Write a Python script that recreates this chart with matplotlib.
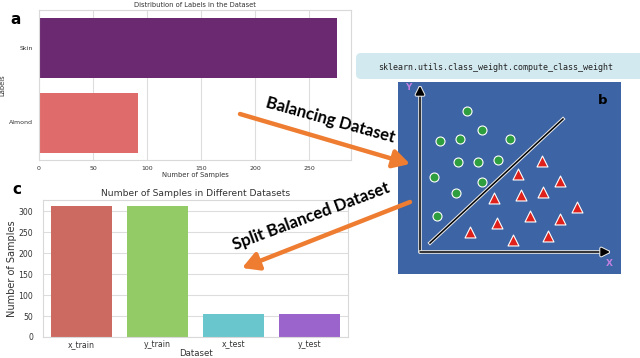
import matplotlib
matplotlib.use("Agg")
import matplotlib.pyplot as plt
import matplotlib.patheffects as pe
from matplotlib.patches import FancyBboxPatch

# panel a : distribution of labels
label_names = ["Skin", "Almond"]
label_counts = [276, 92]
label_colors = ["#6a2970", "#e06b6b"]

# panel c : split sizes
split_names = ["x_train", "y_train", "x_test", "y_test"]
split_counts = [312, 312, 56, 56]
split_colors = ["#cc6a62", "#93cb67", "#68c6cc", "#9b64cc"]

# panel b : schematic points (feature space)
circle_x = [4.7, 6.2, 2.0, 4.0, 9.0, 3.8, 5.8, 7.8, 1.4, 6.2, 3.6, 1.7]
circle_y = [14.1, 12.2, 11.1, 11.3, 11.3, 9.0, 9.0, 9.2, 7.5, 7.0, 5.9, 3.6]
tri_x = [12.2, 9.8, 14.0, 7.4, 10.1, 12.3, 15.7, 11.0, 14.0, 7.7, 5.0, 9.3, 12.8]
tri_y = [9.1, 7.8, 7.1, 5.4, 5.7, 6.0, 4.5, 3.6, 3.3, 2.9, 2.0, 1.2, 1.6]

W, H = 640, 358
fig = plt.figure(figsize=(6.4, 3.58), dpi=100)
fig.patch.set_facecolor("white")


def px_axes(l, t, r, b):
    return fig.add_axes([l / W, 1 - b / H, (r - l) / W, (b - t) / H])


def light_style(ax):
    for s in ax.spines.values():
        s.set_color("#d9d9d9")
        s.set_linewidth(0.8)
    ax.tick_params(length=0, colors="#333333")
    ax.set_axisbelow(True)


# ---- panel a
ax_a = px_axes(39, 10, 351, 160)
ax_a.barh(range(len(label_names)), label_counts, height=0.8, color=label_colors)
ax_a.set_ylim(1.5, -0.5)
ax_a.set_xlim(0, 289)
ax_a.set_yticks(range(len(label_names)), label_names)
ax_a.set_xticks([0, 50, 100, 150, 200, 250])
ax_a.tick_params(labelsize=4.5, pad=4)
ax_a.grid(axis="x", color="#dddddd", lw=0.8)
light_style(ax_a)
ax_a.set_title("Distribution of Labels in the Dataset", fontsize=4.9, pad=2.5, color="#333333")
ax_a.set_xlabel("Number of Samples", fontsize=4.9, labelpad=1, color="#333333")
ax_a.set_ylabel("Labels", fontsize=4.9, labelpad=3, color="#333333")

# ---- panel c
ax_c = px_axes(43, 200, 348, 337)
ax_c.bar(range(len(split_names)), split_counts, width=0.8, color=split_colors)
ax_c.set_xlim(-0.5, 3.5)
ax_c.set_ylim(0, 327)
ax_c.set_xticks(range(len(split_names)), split_names)
ax_c.set_yticks([0, 50, 100, 150, 200, 250, 300])
ax_c.tick_params(axis="x", labelsize=5.6, pad=2)
ax_c.tick_params(axis="y", labelsize=5.6, pad=7)
ax_c.grid(axis="y", color="#dddddd", lw=0.8)
light_style(ax_c)
ax_c.set_title("Number of Samples in Different Datasets", fontsize=6.6, pad=3, color="#333333")
ax_c.set_xlabel("Dataset", fontsize=6.2, labelpad=0, color="#333333")
ax_c.set_ylabel("Number of Samples", fontsize=7, labelpad=1, color="#333333",
                family=["Liberation Sans Narrow", "DejaVu Sans"])

# ---- panel b
ax_b = px_axes(398, 82, 621, 274)
ax_b.set_facecolor("#3d64a4")
ax_b.set_xlim(-2.2, 20.1)
ax_b.set_ylim(-2.2, 17.0)
ax_b.set_xticks([])
ax_b.set_yticks([])
for s in ax_b.spines.values():
    s.set_visible(False)
outline = [pe.withStroke(linewidth=2.6, foreground="#e8e8e8")]
ax_b.plot([1.0, 14.3], [0.9, 13.3], color="black", lw=1.1, path_effects=outline)
for end in [(0, 16.6), (19.0, 0)]:
    ax_b.annotate("", xy=end, xytext=(0, 0),
                  arrowprops=dict(arrowstyle="-|>", color="black", lw=1.1,
                                  mutation_scale=13, shrinkA=0, shrinkB=0,
                                  path_effects=outline))
ax_b.scatter(circle_x, circle_y, s=42, color="#2e9e3e", edgecolors="white", linewidths=0.8, zorder=3)
ax_b.scatter(tri_x, tri_y, s=62, marker="^", color="#e0201a", edgecolors="white", linewidths=0.8, zorder=3)
ax_b.text(-1.2, 16.4, "Y", color="#c080e0", fontsize=6.5, fontweight="bold", ha="center", va="center")
ax_b.text(18.9, -1.1, "X", color="#c080e0", fontsize=6.5, fontweight="bold", ha="center", va="center")
ax_b.text(18.3, 15.2, "b", color="black", fontsize=9.5, fontweight="bold", ha="center", va="center")

# ---- overlay: labels, banner, arrows
ov = fig.add_axes([0, 0, 1, 1])
ov.set_xlim(0, W)
ov.set_ylim(H, 0)
ov.axis("off")
ov.patch.set_alpha(0)

ov.add_patch(FancyBboxPatch((356, 53), 292, 26, boxstyle="round,pad=0,rounding_size=5",
                            facecolor="#d3e9f0", edgecolor="none"))
ov.text(496, 67, "sklearn.utils.class_weight.compute_class_weight", fontsize=6,
        family="DejaVu Sans Mono", color="#222222", ha="center", va="center")

ov.text(16, 20, "a", fontsize=11, fontweight="bold", ha="center", va="center")
ov.text(17, 190, "c", fontsize=11, fontweight="bold", ha="center", va="center")

orange = "#ee7d31"
ov.annotate("", xy=(410, 164), xytext=(240, 114),
            arrowprops=dict(arrowstyle="-|>,head_length=0.9,head_width=0.5", color=orange,
                            lw=3.2, mutation_scale=11, shrinkA=0, shrinkB=0))
ov.annotate("", xy=(242, 268), xytext=(410, 202),
            arrowprops=dict(arrowstyle="-|>,head_length=0.9,head_width=0.5", color=orange,
                            lw=3.2, mutation_scale=11, shrinkA=0, shrinkB=0))
ov.text(330, 120, "Balancing Dataset", fontsize=12, fontweight="bold", family=["Lato", "DejaVu Sans"],
        rotation=-15.5, rotation_mode="anchor", ha="center", va="center")
ov.text(311, 216, "Split Balanced Dataset", fontsize=12, fontweight="bold", family=["Lato", "DejaVu Sans"],
        rotation=20.5, rotation_mode="anchor", ha="center", va="center")

fig.savefig("out.png", dpi=100)
